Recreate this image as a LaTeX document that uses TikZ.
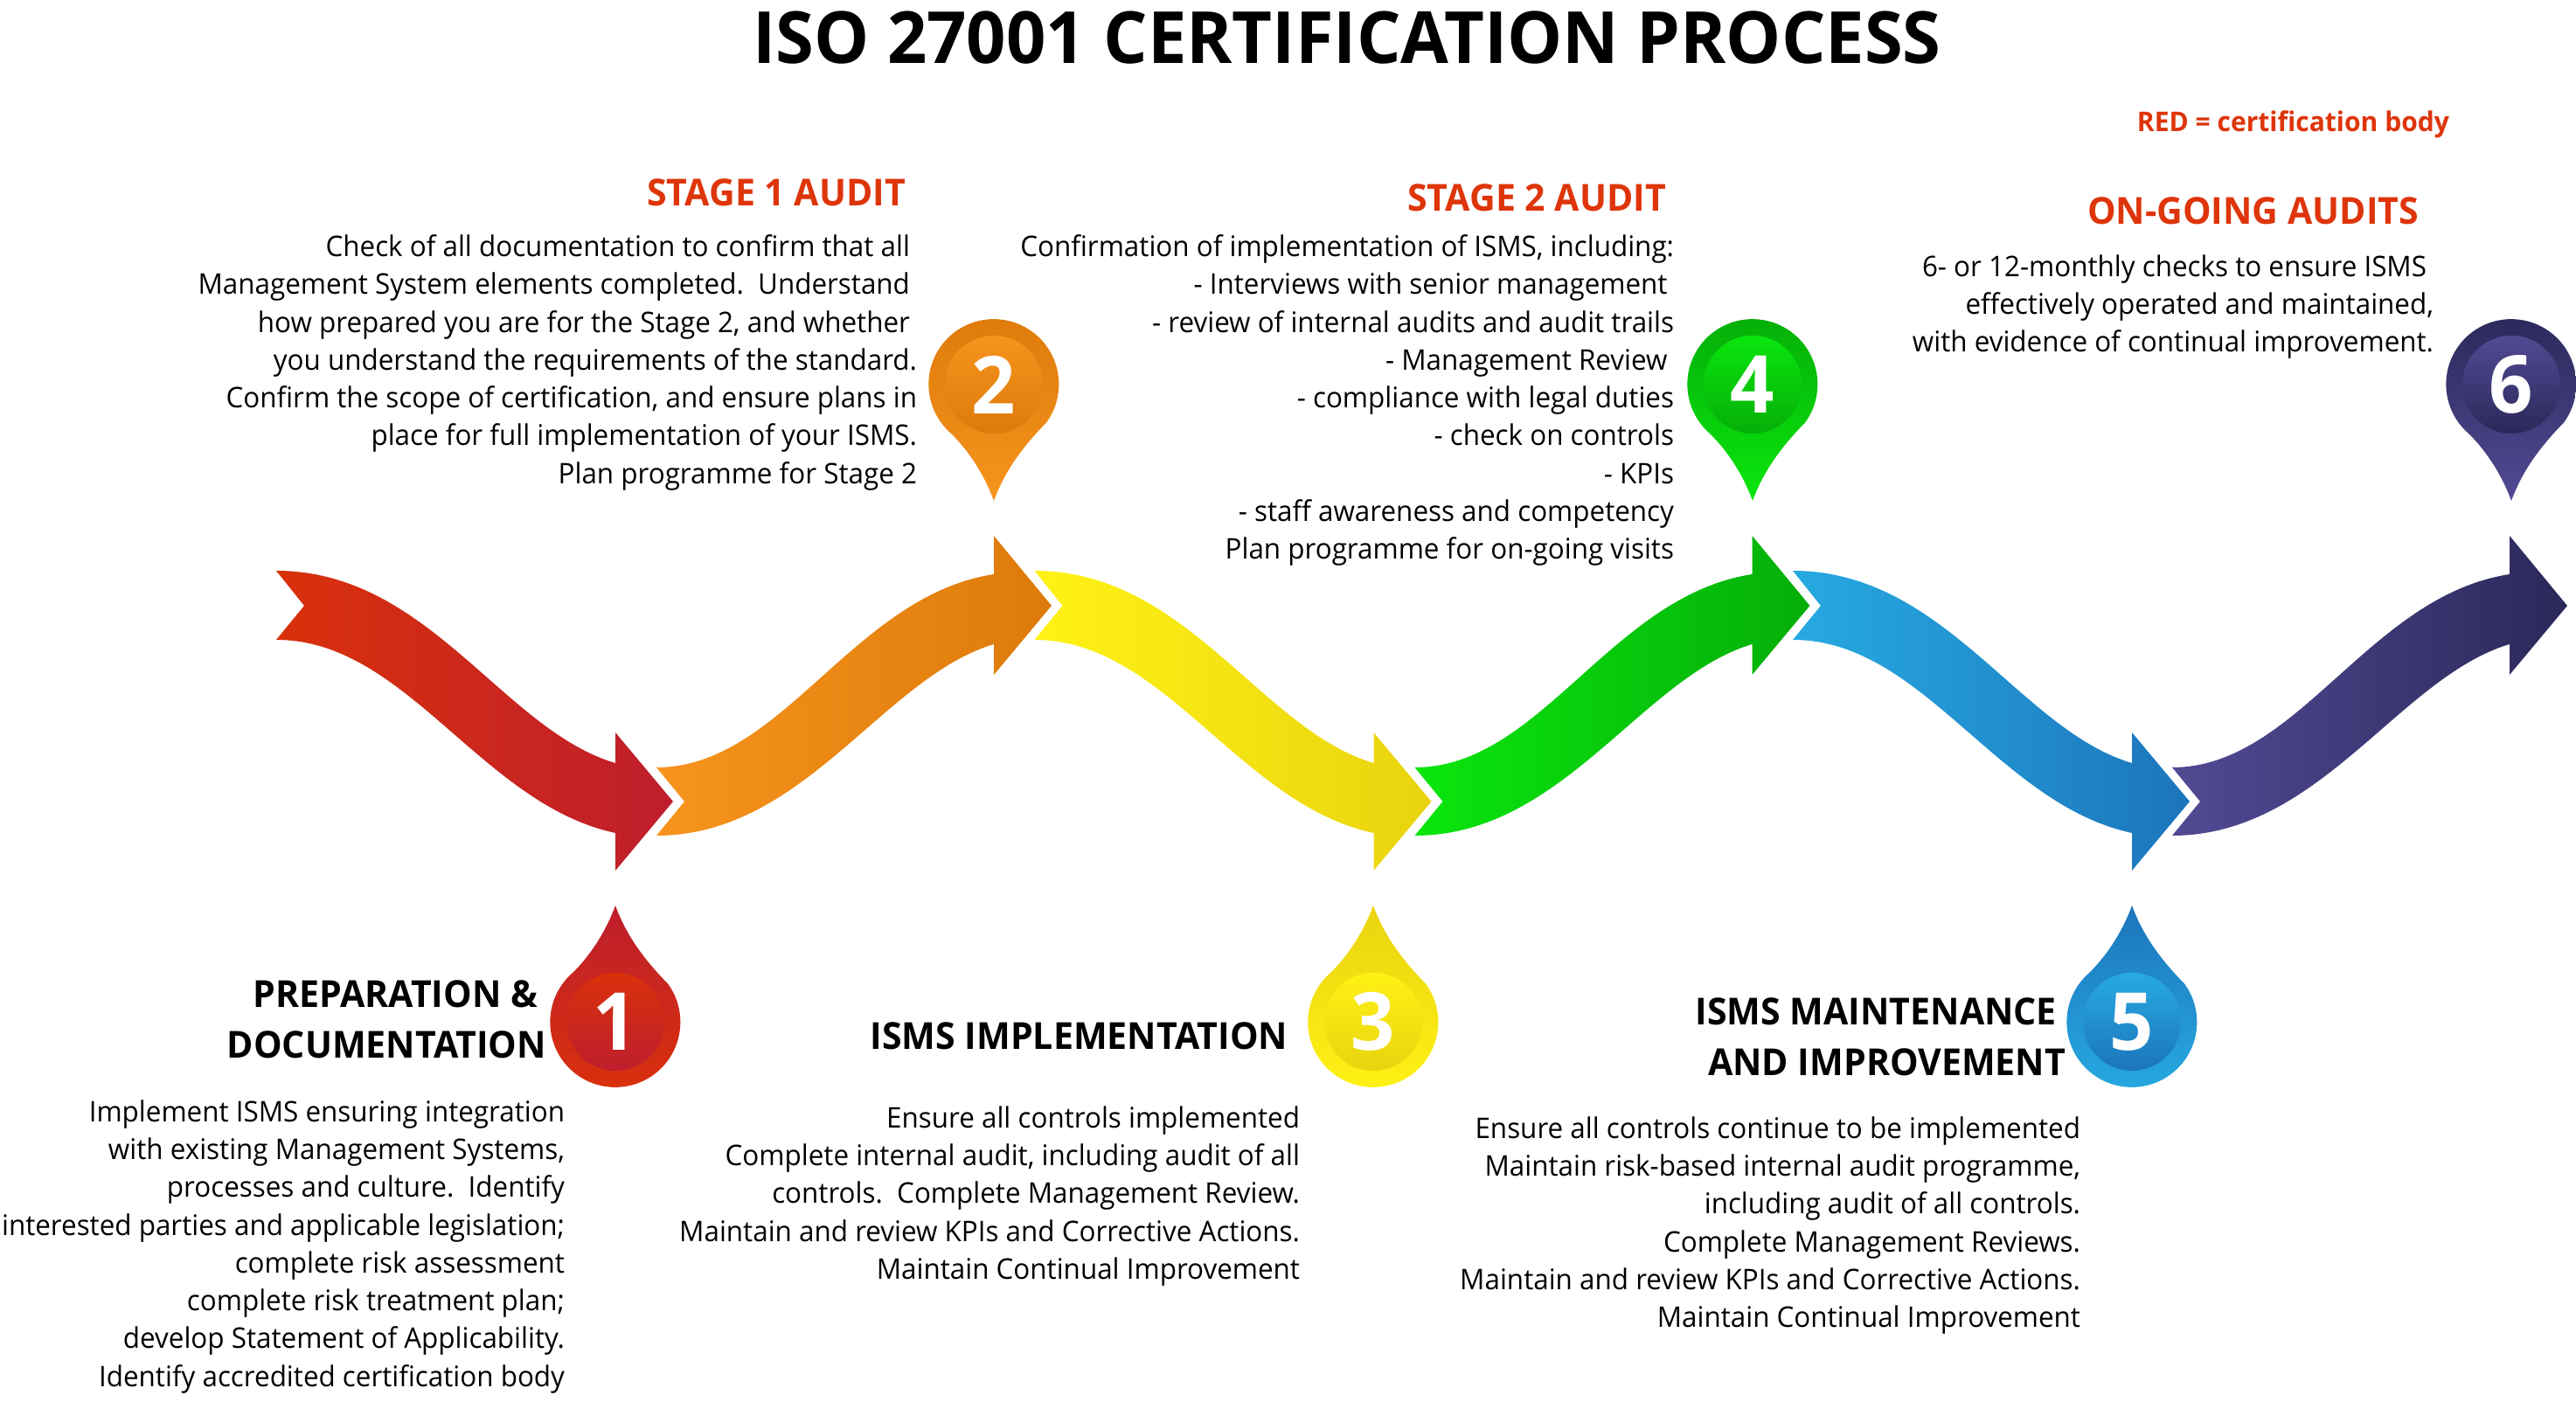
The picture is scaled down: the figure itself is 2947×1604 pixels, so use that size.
\documentclass[tikz,border=0pt]{standalone}
\usepackage{fontspec}
\setmainfont{Open Sans}[FakeStretch=0.965]
\usetikzlibrary{positioning, calc}
\definecolor{redLight}{HTML}{D9310B}
\definecolor{redDark}{HTML}{BE1E2D}
\definecolor{orangeLight}{HTML}{F7941D}
\definecolor{orangeDark}{HTML}{DD7A0A}
\definecolor{yellowLight}{HTML}{FFF215}
\definecolor{yellowDark}{HTML}{E9D30F}
\definecolor{greenLight}{HTML}{0AE60E}
\definecolor{greenDark}{HTML}{05AE08}
\definecolor{blueLight}{HTML}{27AAE1}
\definecolor{blueDark}{HTML}{1C75BC}
\definecolor{purpleLight}{HTML}{524A94}
\definecolor{purpleDark}{HTML}{2A2859}
\definecolor{headRed}{HTML}{DE350B}
\newcommand{\waveDown}[3]{%
  \shade[shift={(#1,0)}, left color=#2, right color=#3]
    (316,653) .. controls (490,653) and (575,835) .. (704,873) -- (704,838) -- (770,917)
    -- (704,996) -- (704,953) .. controls (550,920) and (465,732) .. (316,732) -- (348,693) -- cycle;%
}
\newcommand{\waveUp}[3]{%
  \shade[shift={(#1,0)}, left color=#2, right color=#3]
    (751,878) .. controls (895,878) and (975,682) .. (1137,657) -- (1137,613) -- (1203,693)
    -- (1137,772) -- (1137,737) .. controls (1010,775) and (920,956) .. (751,956) -- (783,917) -- cycle;%
}
\newcommand{\marker}[7]{%
  \shade[top color=#5, bottom color=#6]
    ({#2-50},{#3-#4*55}) arc[start angle={180+#4*48}, end angle={180+#4*48-#4*264}, radius=74.5]
    .. controls ({#2+32},{#3-#4*72}) and ({#2+12},{#3-#4*100}) .. (#2,{#3-#4*133})
    .. controls ({#2-12},{#3-#4*100}) and ({#2-32},{#3-#4*72}) .. cycle;
  \node[markerNum, top color=#6, bottom color=#5] (#1) at (#2,#3) {#7};%
}

\begin{document}
\begin{tikzpicture}[x=0.01cm, y=-0.01cm,
  every node/.style={inner sep=0pt, outer sep=0pt},
  markerNum/.style={circle, minimum size=1.12cm, text=white, font=\fontsize{26}{26}\selectfont\bfseries},
  titleText/.style={font=\fontsize{23.4}{30}\selectfont\bfseries},
  redHead/.style={text=headRed, font=\fontsize{12.1}{15}\selectfont\bfseries, anchor=east},
  blackHead/.style={align=right, font=\fontsize{12.1}{16.5}\selectfont\bfseries, anchor=east},
  bodyText/.style={align=right, font=\fontsize{9.25}{12.3}\selectfont}
]
  \useasboundingbox (0,0) rectangle (2947,1604);

  \node[titleText] (title) at (1541,43) {ISO 27001 CERTIFICATION PROCESS};
  \node[text=headRed, anchor=east, font=\fontsize{8.85}{12}\selectfont\bfseries] (legend) at (2802,142) {RED = certification body};

  \waveDown{0}{redLight}{redDark}
  \waveUp{0}{orangeLight}{orangeDark}
  \waveDown{867.5}{yellowLight}{yellowDark}
  \waveUp{867.5}{greenLight}{greenDark}
  \waveDown{1735}{blueLight}{blueDark}
  \waveUp{1734}{purpleLight}{purpleDark}

  \marker{num1}{704}{1169}{1}{redDark}{redLight}{1}
  \marker{num2}{1137}{440}{-1}{orangeDark}{orangeLight}{2}
  \marker{num3}{1571}{1169}{1}{yellowDark}{yellowLight}{3}
  \marker{num4}{2005}{440}{-1}{greenDark}{greenLight}{4}
  \marker{num5}{2439}{1169}{1}{blueDark}{blueLight}{5}
  \marker{num6}{2873}{440}{-1}{purpleDark}{purpleLight}{6}

  \node[redHead] (stage1) at (1036,220) {STAGE 1 AUDIT};
  \node[bodyText, below left=0.33cm and -0.13cm of stage1.south east] (stage1Text) {
    Check of all documentation to confirm that all\kern0.08cm\\
    Management System elements completed.\ \ Understand\kern0.08cm\\
    how prepared you are for the Stage 2, and whether\kern0.08cm\\
    you understand the requirements of the standard.\\
    Confirm the scope of certification, and ensure plans in\\
    place for full implementation of your ISMS.\\
    Plan programme for Stage 2
  };

  \node[redHead] (stage2) at (1906,226) {STAGE 2 AUDIT};
  \node[bodyText, below left=0.27cm and -0.09cm of stage2.south east] (stage2Text) {
    Confirmation of implementation of ISMS, including:\\
    - Interviews with senior management\kern0.075cm\\
    - review of internal audits and audit trails\\
    - Management Review\kern0.075cm\\
    - compliance with legal duties\\
    - check on controls\\
    - KPIs\\
    - staff awareness and competency\\
    Plan programme for on-going visits
  };

  \node[redHead] (ongoing) at (2767,241) {ON-GOING AUDITS};
  \node[bodyText, below left=0.35cm and -0.17cm of ongoing.south east] (ongoingText) {
    6- or 12-monthly checks to ensure ISMS\kern0.08cm\\
    effectively operated and maintained,\\
    with evidence of continual improvement.
  };

  \node[blackHead] (prep) at (625,1166) {PREPARATION \&\kern0.1cm\\DOCUMENTATION};
  \node[bodyText, below left=0.48cm and -0.21cm of prep.south east] (prepText) {
    Implement ISMS ensuring integration\\
    with existing Management Systems,\\
    processes and culture.\ \ Identify\\
    interested parties and applicable legislation;\\
    complete risk assessment\\
    complete risk treatment plan;\\
    develop Statement of Applicability.\\
    Identify accredited certification body
  };

  \node[blackHead] (impl) at (1473,1185) {ISMS IMPLEMENTATION};
  \node[bodyText, below left=0.65cm and -0.14cm of impl.south east] (implText) {
    Ensure all controls implemented\\
    Complete internal audit, including audit of all\\
    controls.\ \ Complete Management Review.\\
    Maintain and review KPIs and Corrective Actions.\\
    Maintain Continual Improvement
  };

  \node[blackHead] (maint) at (2363,1186) {ISMS MAINTENANCE\kern0.1cm\\AND IMPROVEMENT};
  \node[bodyText, below left=0.47cm and -0.17cm of maint.south east] (maintText) {
    Ensure all controls continue to be implemented\\
    Maintain risk-based internal audit programme,\\
    including audit of all controls.\\
    Complete Management Reviews.\\
    Maintain and review KPIs and Corrective Actions.\\
    Maintain Continual Improvement
  };
\end{tikzpicture}
\end{document}
